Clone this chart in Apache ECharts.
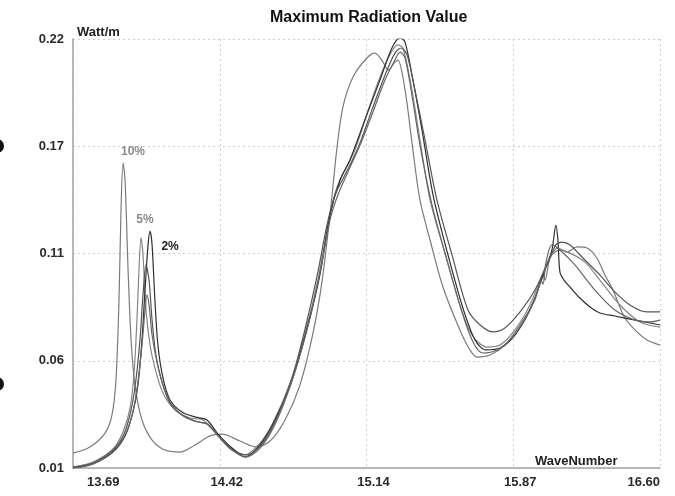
<!DOCTYPE html>
<html>
<head>
<meta charset="utf-8">
<script src="https://cdn.jsdelivr.net/npm/echarts@6/dist/echarts.min.js"></script>
<style>
  html, body { margin: 0; padding: 0; background: #fff; }
  #chart { width: 675px; height: 496px; }
</style>
</head>
<body>
<div id="chart"></div>
<script>
// tick labels as printed on the original plot
const xTickLabels = ['13.69', '14.42', '15.14', '15.87', '16.60'];
const yTickLabels = ['0.01', '0.06', '0.11', '0.17', '0.22'];

const seriesNames = ['10%', '5%', '2%', '1%', '0%'];

// [wavenumber, radiation]
const wave10 = [
  [13.690, 0.0173], [13.774, 0.0203], [13.849, 0.0271], [13.883, 0.0359], [13.903, 0.0531],
  [13.918, 0.0922], [13.928, 0.1363], [13.938, 0.1593], [13.948, 0.1510], [13.963, 0.1069],
  [13.978, 0.0727], [13.997, 0.0506], [14.032, 0.0335], [14.082, 0.0237], [14.146, 0.0188],
  [14.220, 0.0178], [14.295, 0.0213], [14.369, 0.0257], [14.429, 0.0266], [14.518, 0.0232],
  [14.597, 0.0203], [14.667, 0.0232], [14.741, 0.0335], [14.815, 0.0506], [14.880, 0.0761],
  [14.924, 0.1010], [14.964, 0.1338], [14.999, 0.1671], [15.028, 0.1867], [15.078, 0.2014],
  [15.147, 0.2107], [15.187, 0.2131], [15.227, 0.2087], [15.252, 0.2048], [15.286, 0.2087],
  [15.301, 0.2097], [15.336, 0.1951], [15.375, 0.1657], [15.410, 0.1412], [15.460, 0.1216],
  [15.524, 0.0986], [15.608, 0.0776], [15.658, 0.0678], [15.693, 0.0643], [15.757, 0.0653],
  [15.831, 0.0702], [15.906, 0.0800], [15.980, 0.0922], [16.020, 0.1045], [16.030, 0.1020],
  [16.055, 0.1128], [16.094, 0.1177], [16.139, 0.1157], [16.188, 0.1182], [16.238, 0.1177],
  [16.287, 0.1128], [16.327, 0.1045], [16.367, 0.0971], [16.426, 0.0834], [16.486, 0.0766],
  [16.535, 0.0727], [16.600, 0.0702]
];
const wave5 = [
  [13.690, 0.0105], [13.789, 0.0129], [13.888, 0.0193], [13.938, 0.0276], [13.973, 0.0394],
  [13.992, 0.0555], [14.007, 0.0824], [14.017, 0.1069], [14.027, 0.1226], [14.037, 0.1143],
  [14.052, 0.0873], [14.072, 0.0702], [14.096, 0.0590], [14.136, 0.0467], [14.196, 0.0384],
  [14.270, 0.0345], [14.334, 0.0335], [14.394, 0.0276], [14.468, 0.0203], [14.543, 0.0164],
  [14.617, 0.0222], [14.681, 0.0320], [14.766, 0.0516], [14.845, 0.0776], [14.904, 0.1020],
  [14.954, 0.1289], [14.994, 0.1461], [15.038, 0.1559], [15.088, 0.1657], [15.162, 0.1877],
  [15.237, 0.2073], [15.301, 0.2171], [15.326, 0.2156], [15.370, 0.1951], [15.410, 0.1706],
  [15.460, 0.1412], [15.534, 0.1152], [15.608, 0.0898], [15.668, 0.0751], [15.742, 0.0692],
  [15.807, 0.0702], [15.881, 0.0776], [15.955, 0.0898], [16.030, 0.1079], [16.064, 0.1143],
  [16.104, 0.1167], [16.154, 0.1152], [16.228, 0.1108], [16.302, 0.1020], [16.401, 0.0898],
  [16.501, 0.0815], [16.600, 0.0790]
];
const wave2 = [
  [13.690, 0.0100], [13.789, 0.0120], [13.888, 0.0178], [13.948, 0.0257], [13.987, 0.0374],
  [14.012, 0.0506], [14.032, 0.0727], [14.047, 0.0971], [14.062, 0.1192], [14.072, 0.1260],
  [14.082, 0.1192], [14.096, 0.0922], [14.111, 0.0702], [14.136, 0.0541], [14.171, 0.0433],
  [14.230, 0.0374], [14.295, 0.0350], [14.354, 0.0335], [14.409, 0.0266], [14.478, 0.0198],
  [14.543, 0.0154], [14.617, 0.0213], [14.691, 0.0335], [14.776, 0.0531], [14.855, 0.0800],
  [14.914, 0.1045], [14.964, 0.1338], [15.014, 0.1510], [15.063, 0.1608], [15.137, 0.1804],
  [15.212, 0.2000], [15.271, 0.2156], [15.311, 0.2205], [15.336, 0.2185], [15.375, 0.2000],
  [15.420, 0.1755], [15.475, 0.1436], [15.549, 0.1143], [15.623, 0.0883], [15.683, 0.0727],
  [15.737, 0.0678], [15.807, 0.0687], [15.881, 0.0751], [15.955, 0.0873], [16.030, 0.1069],
  [16.064, 0.1167], [16.084, 0.1289], [16.094, 0.1216], [16.104, 0.1059], [16.124, 0.1020],
  [16.154, 0.0986], [16.203, 0.0932], [16.253, 0.0888], [16.302, 0.0859], [16.376, 0.0844],
  [16.451, 0.0829], [16.525, 0.0815], [16.600, 0.0800]
];
const wave1 = [
  [13.690, 0.0105], [13.789, 0.0124], [13.888, 0.0188], [13.943, 0.0266], [13.978, 0.0384],
  [14.002, 0.0531], [14.022, 0.0727], [14.037, 0.0947], [14.052, 0.1094], [14.067, 0.1020],
  [14.082, 0.0824], [14.101, 0.0653], [14.131, 0.0521], [14.171, 0.0418], [14.230, 0.0359],
  [14.295, 0.0330], [14.354, 0.0315], [14.409, 0.0257], [14.478, 0.0188], [14.553, 0.0164],
  [14.627, 0.0218], [14.696, 0.0335], [14.776, 0.0541], [14.845, 0.0800], [14.904, 0.1059],
  [14.949, 0.1289], [14.989, 0.1436], [15.038, 0.1534], [15.103, 0.1666], [15.172, 0.1853],
  [15.237, 0.2024], [15.286, 0.2131], [15.316, 0.2156], [15.346, 0.2122], [15.385, 0.1951],
  [15.435, 0.1706], [15.494, 0.1412], [15.569, 0.1143], [15.648, 0.0873], [15.708, 0.0800],
  [15.772, 0.0766], [15.831, 0.0785], [15.906, 0.0864], [15.980, 0.0971], [16.045, 0.1108],
  [16.084, 0.1192], [16.114, 0.1206], [16.154, 0.1192], [16.228, 0.1118], [16.302, 0.1045],
  [16.367, 0.0971], [16.451, 0.0898], [16.535, 0.0864], [16.600, 0.0864]
];
const wave0 = [
  [13.690, 0.0100], [13.789, 0.0120], [13.888, 0.0183], [13.948, 0.0262], [13.987, 0.0374],
  [14.012, 0.0521], [14.032, 0.0702], [14.047, 0.0873], [14.057, 0.0947], [14.067, 0.0898],
  [14.082, 0.0751], [14.106, 0.0619], [14.141, 0.0492], [14.186, 0.0403], [14.245, 0.0350],
  [14.309, 0.0325], [14.359, 0.0315], [14.419, 0.0247], [14.493, 0.0178], [14.548, 0.0154],
  [14.627, 0.0208], [14.706, 0.0345], [14.790, 0.0570], [14.865, 0.0834], [14.919, 0.1079],
  [14.964, 0.1314], [15.003, 0.1436], [15.053, 0.1549], [15.113, 0.1681], [15.177, 0.1843],
  [15.237, 0.2000], [15.286, 0.2097], [15.311, 0.2136], [15.336, 0.2107], [15.370, 0.1926],
  [15.410, 0.1681], [15.470, 0.1387], [15.544, 0.1118], [15.618, 0.0864], [15.673, 0.0717],
  [15.722, 0.0663], [15.792, 0.0678], [15.866, 0.0737], [15.941, 0.0849], [15.995, 0.0971],
  [16.010, 0.1020], [16.020, 0.1000], [16.035, 0.1108], [16.064, 0.1192], [16.104, 0.1167],
  [16.178, 0.1094], [16.277, 0.0971], [16.376, 0.0873], [16.476, 0.0824], [16.550, 0.0815],
  [16.600, 0.0824]
];

const FONT = '"Liberation Sans", Arial, sans-serif';

// highest point of the narrow left-hand peak, used to pin the percent labels
function leftPeak(data) {
  let best = data[0];
  data.forEach(function (p) {
    if (p[0] < 14.2 && p[1] > best[1]) best = p;
  });
  return best;
}

function peakLabel(data, text, color, offset) {
  return {
    symbol: 'circle',
    symbolSize: 1,
    itemStyle: { color: 'transparent' },
    silent: true,
    data: [{ coord: leftPeak(data) }],
    label: {
      show: true,
      position: 'inside',
      formatter: text,
      offset: offset,
      color: color,
      fontFamily: FONT,
      fontWeight: 'bold',
      fontSize: 12
    }
  };
}

function lineSeries(name, data, color, width, markPoint) {
  const s = {
    name: name,
    type: 'line',
    data: data,
    showSymbol: false,
    smooth: 0.3,
    lineStyle: { color: color, width: width },
    itemStyle: { color: color },
    z: 3
  };
  if (markPoint) s.markPoint = markPoint;
  return s;
}

const chart = echarts.init(document.getElementById('chart'), null, { renderer: 'canvas' });

chart.setOption({
  backgroundColor: '#ffffff',
  animation: false,
  title: {
    text: 'Maximum Radiation Value',
    left: 270,
    top: 10,
    padding: 0,
    textStyle: { fontFamily: FONT, fontWeight: 'bold', fontSize: 16, color: '#111' }
  },
  grid: { left: 73, right: 15, top: 39, bottom: 28, containLabel: false, outerBoundsMode: 'none' },
  xAxis: {
    type: 'value',
    min: 13.69,
    max: 16.60,
    interval: 0.7275,
    name: 'WaveNumber',
    nameLocation: 'end',
    nameGap: -125,
    nameTextStyle: {
      fontFamily: FONT, fontWeight: 'bold', fontSize: 13, color: '#222',
      align: 'left', verticalAlign: 'bottom'
    },
    axisLine: { show: true, lineStyle: { color: '#a3a3a3', width: 1.5 } },
    axisTick: { show: false },
    axisLabel: {
      margin: 8,
      padding: [0, 0, 0, 14],
      alignMinLabel: 'left',
      alignMaxLabel: 'right',
      fontFamily: FONT,
      fontWeight: 'bold',
      fontSize: 13,
      color: '#2a2a2a',
      formatter: function (v, i) { return xTickLabels[i]; }
    },
    splitLine: { show: true, lineStyle: { color: '#cfcfcf', type: [2, 3], width: 1 } }
  },
  yAxis: {
    type: 'value',
    min: 0.01,
    max: 0.22,
    interval: 0.0525,
    name: 'Watt/m',
    nameLocation: 'end',
    nameGap: 0,
    nameTextStyle: {
      fontFamily: FONT, fontWeight: 'bold', fontSize: 13, color: '#222',
      align: 'left', padding: [0, 0, 0, 4]
    },
    axisLine: { show: true, lineStyle: { color: '#a3a3a3', width: 1.5 } },
    axisTick: { show: false },
    axisLabel: {
      margin: 9,
      padding: [4, 0, 0, 0],
      fontFamily: FONT,
      fontWeight: 'bold',
      fontSize: 13,
      color: '#2a2a2a',
      formatter: function (v, i) { return yTickLabels[i]; }
    },
    splitLine: { show: true, lineStyle: { color: '#cfcfcf', type: [2, 3], width: 1 } }
  },
  graphic: [
    { type: 'circle', left: -10, top: 139, shape: { r: 7 }, style: { fill: '#111' } },
    { type: 'circle', left: -10, top: 377, shape: { r: 7 }, style: { fill: '#111' } }
  ],
  series: [
    lineSeries(seriesNames[0], wave10, '#7a7a7a', 1.2, peakLabel(wave10, '10%', '#8a8a8a', [10, -11])),
    lineSeries(seriesNames[1], wave5, '#858585', 1.2, peakLabel(wave5, '5%', '#8a8a8a', [4, -18])),
    lineSeries(seriesNames[2], wave2, '#2e2e2e', 1.2, peakLabel(wave2, '2%', '#222', [20, 16])),
    lineSeries(seriesNames[3], wave1, '#555555', 1.2),
    lineSeries(seriesNames[4], wave0, '#666666', 1.2)
  ]
});
</script>
</body>
</html>
